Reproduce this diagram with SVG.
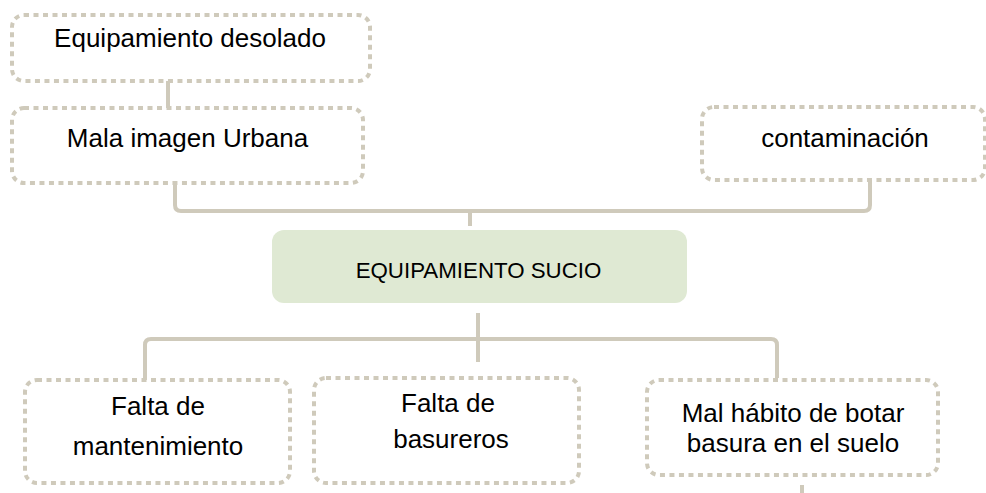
<svg xmlns="http://www.w3.org/2000/svg" width="986" height="493" viewBox="0 0 986 493">
<style>
.box{fill:#ffffff;stroke:#cfcabb;stroke-width:4;stroke-dasharray:5 4.5}
.main{fill:#dfe9d3;stroke:none}
.conn{fill:none;stroke:#cfcabb;stroke-width:4}
.t{font-family:"Liberation Sans",Arial,sans-serif;font-size:26px;fill:#000;text-anchor:middle}
.tm{font-family:"Liberation Sans",Arial,sans-serif;font-size:22.3px;fill:#000;text-anchor:middle}
</style>
<rect width="986" height="493" fill="#ffffff"/>
<g id="connectors">
<path class="conn" d="M168 81V108"/>
<path class="conn" d="M175 183V205Q175 211 181 211H864Q870 211 870 205V180"/>
<path class="conn" d="M470 211V226"/>
<path class="conn" d="M478 313V362"/>
<path class="conn" d="M145 380V345Q145 339 151 339H771Q777 339 777 345V378"/>
<path class="conn" d="M802 485V493"/>
</g>
<g id="n-desolado">
<rect class="box" x="12" y="15" width="358" height="66" rx="12"/>
<text class="t" x="190" y="47">Equipamiento desolado</text>
</g>
<g id="n-mala-imagen">
<rect class="box" x="12" y="108" width="351" height="75" rx="12"/>
<text class="t" x="187.5" y="147">Mala imagen Urbana</text>
</g>
<g id="n-contaminacion">
<rect class="box" x="702" y="107" width="283" height="73" rx="12"/>
<text class="t" x="845" y="147">contaminación</text>
</g>
<g id="n-main">
<rect class="main" x="272" y="230" width="415" height="73" rx="12"/>
<text class="tm" x="478.5" y="278">EQUIPAMIENTO SUCIO</text>
</g>
<g id="n-mantenimiento">
<rect class="box" x="25" y="380" width="265" height="103" rx="12"/>
<text class="t" x="158" y="415">Falta de</text>
<text class="t" x="158" y="455">mantenimiento</text>
</g>
<g id="n-basureros">
<rect class="box" x="314" y="378" width="265" height="105" rx="12"/>
<text class="t" x="448" y="412">Falta de</text>
<text class="t" x="451" y="448">basureros</text>
</g>
<g id="n-mal-habito">
<rect class="box" x="647" y="380" width="291" height="95" rx="12"/>
<text class="t" x="793" y="422">Mal hábito de botar</text>
<text class="t" x="793" y="452">basura en el suelo</text>
</g>
</svg>
